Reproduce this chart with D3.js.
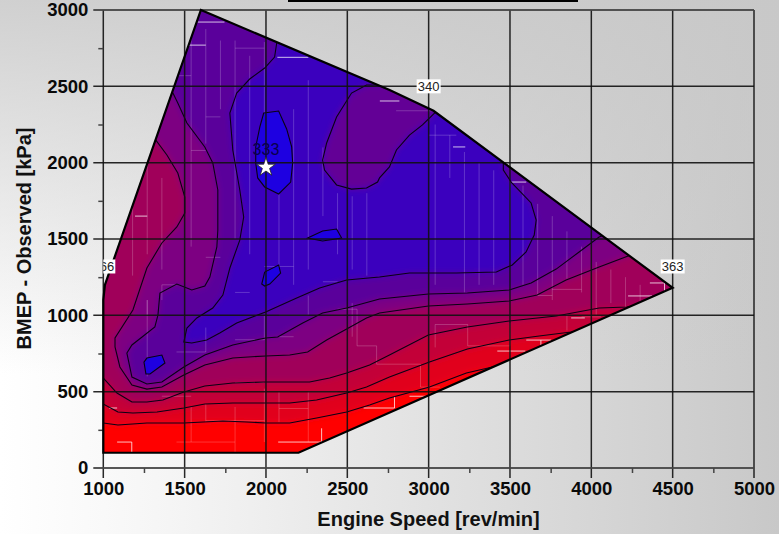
<!DOCTYPE html>
<html>
<head>
<meta charset="utf-8">
<script src="https://cdn.jsdelivr.net/npm/d3@7/dist/d3.min.js"></script>
<style>
html,body{margin:0;padding:0;background:#fff;overflow:hidden}
svg{display:block}
text{font-family:"Liberation Sans",Arial,sans-serif}
</style>
</head>
<body>
<div id="chart"></div>
<script>
const xTicks=[1000,1500,2000,2500,3000,3500,4000,4500,5000];
const xMinor=[1250,1750,2250,2750,3250,3750,4250,4750];
const yTicks=[0,500,1000,1500,2000,2500,3000];
const yMinor=[250,750,1250,1750,2250,2750];
const xTitle="Engine Speed [rev/min]";
const yTitle="BMEP - Observed [kPa]";

// Engine map limit (rpm, kPa)
const outline=[[1000,100],[2200,100],[4500,1180],[3030,2340],[2760,2476],[1600,3000],[1010,1200],[1000,1100]];

// Contours, rpm/kPa. Each closes around the lower-BSFC side; closing points lie beyond the map limit.
const contour1=[[950,300],[1000,295],[1090,282],[1268,295],[1495,295],[1735,308],[1882,301],[1998,295],[2146,295],[2311,328],[2496,367],[2637,413],[2759,459],[3005,531],[3232,622],[3392,662],[3600,700],[5000,860],[5000,3100],[950,3100]];
const contour2=[[950,425],[1000,419],[1090,367],[1182,360],[1330,367],[1495,393],[1624,419],[1796,426],[1998,426],[2146,426],[2311,445],[2496,491],[2618,531],[2759,596],[3005,694],[3238,779],[3495,838],[3679,865],[3876,891],[5000,1100],[5000,3100],[950,3100]];
const contour3=[[950,600],[1000,590],[1084,491],[1176,432],[1268,432],[1366,445],[1495,498],[1624,537],[1796,557],[1998,563],[2146,563],[2268,563],[2391,590],[2496,622],[2637,675],[2759,740],[2998,871],[3238,924],[3495,963],[3784,996],[4048,1048],[4220,1055],[5000,1200],[5000,3100],[950,3100]];
const contour4=[[1323,2148],[1391,2050],[1458,1932],[1501,1775],[1501,1670],[1452,1579],[1360,1474],[1268,1310],[1182,1035],[1072,852],[1072,793],[1102,662],[1176,544],[1268,517],[1360,531],[1495,609],[1624,675],[1796,721],[1998,734],[2146,740],[2256,760],[2373,838],[2496,910],[2618,983],[2698,1015],[2999,1061],[3238,1074],[3495,1094],[3667,1133],[3845,1231],[4048,1317],[4226,1389],[4350,1500],[3100,2500],[1600,3100],[1250,2200]];
const contour5=[[1428,2456],[1458,2391],[1514,2260],[1624,2103],[1673,1998],[1704,1821],[1704,1559],[1698,1448],[1655,1251],[1624,1192],[1544,1166],[1452,1205],[1348,1146],[1336,1002],[1317,924],[1176,806],[1145,753],[1176,596],[1268,550],[1360,563],[1495,662],[1624,740],[1796,806],[1998,852],[2072,858],[2226,950],[2348,1015],[2496,1048],[2698,1107],[2999,1140],[3238,1146],[3495,1166],[3630,1212],[3784,1303],[3925,1415],[4048,1513],[4250,1600],[3100,2500],[1600,3100],[1390,2500]];
const contour6=[[2066,2784],[2053,2692],[1992,2620],[1900,2548],[1820,2456],[1778,2325],[1796,2083],[1839,1821],[1863,1644],[1839,1493],[1778,1310],[1735,1133],[1673,1048],[1575,983],[1514,917],[1495,825],[1544,819],[1636,838],[1716,884],[1820,950],[1998,1022],[2189,1113],[2330,1179],[2496,1231],[2698,1251],[2882,1277],[3170,1277],[3416,1284],[3514,1330],[3599,1415],[3649,1526],[3661,1624],[3630,1736],[3507,1873],[3459,1952],[3459,1998],[3520,2050],[3100,2450],[2100,2900]];
const hole=[[2348,2017],[2373,2129],[2434,2299],[2526,2456],[2618,2509],[2698,2509],[2821,2541],[3096,2410],[3036,2325],[2962,2247],[2882,2181],[2802,2083],[2759,1972],[2698,1900],[2686,1873],[2618,1834],[2526,1827],[2434,1854],[2360,1952]];
const islandA=[[1986,2325],[2078,2338],[2127,2221],[2158,2103],[2164,1998],[2152,1873],[2078,1795],[1992,1841],[1949,1900],[1937,1998],[1937,2103],[1962,2233]];
const islandB=[[2256,1506],[2348,1552],[2434,1565],[2465,1506],[2348,1487]];
const islandC=[[1992,1283],[2078,1330],[2090,1277],[2023,1205],[1992,1192],[1974,1205]];
const islandD=[[1250,694],[1268,720],[1360,740],[1379,688],[1287,616],[1262,616]];

// Fill colour of each successive band
const bandColors=["#ff0000","#e1001e","#c30037","#a0005a","#7d0082","#5a009b","#3a00be"];
const holeColor="#640096";
const islandColor="#1e00e1";

// Faint and bright edges of the cell map: [rpm,kPa] polylines
const faintEdges=[
[[1630,2125],[1630,2875]],[[1720,2350],[1720,2800]],[[1810,1500],[1810,2800]],[[1900,1400],[1900,2700]],[[1990,2200],[1990,2790]],
[[2080,1300],[2080,2100]],[[2170,1200],[2170,2350]],[[2260,1300],[2260,2540]],[[2350,2100],[2350,1650]],[[2440,1400],[2440,1800]],[[2530,1300],[2530,1780]],[[2620,1260],[2620,1800]],
[[1270,1400],[1270,2200]],[[1360,1900],[1360,1300]],[[1180,1260],[1180,1900]],[[1540,1450],[1540,2900]],
[[1810,2750],[1990,2750]],[[1630,2300],[1720,2300]],[[1460,2570],[1540,2570]],[[1630,2080],[1540,2080]],
[[2800,2340],[3050,2340]],[[3000,2180],[3170,2180]],[[3220,2070],[3220,1150]],[[3040,2250],[3040,1200]],[[3130,2180],[3130,1900]],
[[3310,2000],[3310,1200]],[[3400,1950],[3400,1200]],[[3500,1880],[3500,1500]],[[3580,1850],[3580,1200]],[[3670,1730],[3670,1130]],
[[3760,1650],[3760,1100]],[[3850,1550],[3850,1240]],[[3940,1450],[3940,1150]],[[4030,1350],[4030,1000]],[[4120,1300],[4120,1080]],[[4210,1250],[4210,1050]],[[4300,1200],[4300,1000]],
[[3760,1170],[3940,1170]],[[3670,1130],[3760,1130]],[[3850,1010],[3850,900]],[[3940,990],[4060,990]],
[[2440,1040],[2560,1040]],[[2560,1040],[2560,800]],[[2560,800],[2680,800]],[[2680,800],[2680,680]],[[2680,680],[2950,680]],[[2950,680],[2950,530]],[[2950,530],[3070,530]],
[[3040,790],[3040,940]],[[3040,940],[3240,940]],[[3240,940],[3240,800]],[[3500,800],[3500,950]],[[3240,800],[3500,800]],
[[1180,1000],[1270,1000]],[[1270,1000],[1270,1100]],[[1360,1200],[1450,1200]],[[1360,1100],[1360,1200]],
[[1270,1100],[1270,600]],[[1630,300],[1630,420]],[[1540,170],[1540,400]],[[1810,100],[1810,400]],[[1990,170],[1990,520]],[[2080,300],[2080,500]],[[2260,170],[2260,500]],
[[1450,170],[1810,170]],[[1630,310],[1990,310]],[[2080,390],[2260,390]],[[2260,500],[2440,500]],[[1360,470],[1540,470]],[[1810,560],[1990,560]],
[[1450,760],[1630,760]],[[1630,760],[1630,920]],[[1810,840],[1990,840]],[[1990,840],[1990,1000]],[[2080,1000],[2260,1000]],[[2260,1000],[2260,1130]],
[[1990,1320],[2170,1320]],[[2350,1220],[2440,1220]],[[1810,1150],[1900,1150]],[[1630,1380],[1720,1380]],[[2530,1080],[2530,860]],[[2080,860],[2170,860]]
];
const brightEdges=[
[[1580,2921],[1745,2921]],[[1490,2770],[1630,2770]],[[1425,2692],[1495,2692]],[[2070,2690],[2260,2690]],[[2700,2404],[2820,2404]],
[[1195,1650],[1270,1650]],[[3150,2103],[3225,2103]],[[3510,1873],[3600,1873]],[[4360,1212],[4450,1212]],[[4450,1212],[4450,1127]],
[[1085,170],[1175,170]],[[1175,170],[1175,100]],[[1035,393],[1085,393]],[[2342,170],[2342,260]],[[2075,170],[2342,170]],
[[2600,393],[2790,393]],[[2790,393],[2790,470]],[[2882,470],[2985,470]],[[3422,766],[3595,766]],[[3600,838],[3753,838]],[[3690,838],[3690,790]],
[[3876,983],[3960,983]],[[4226,1127],[4373,1127]]
];

// Labelled points
const boxLabels=[{rpm:3000,kpa:2500,text:"340"},{rpm:4500,kpa:1320,text:"363"},{rpm:1000,kpa:1320,text:"366"}];
const peakRpm=2000,peakKpa=1970,peakLabel="333";

const W=779,H=534;
const x=d3.scaleLinear().domain([1000,5000]).range([103.3,754]);
const y=d3.scaleLinear().domain([0,3000]).range([468,10]);
const line=d3.line().x(d=>x(d[0])).y(d=>y(d[1]));
const closed=p=>line(p)+"Z";

const svg=d3.select("#chart").append("svg").attr("width",W).attr("height",H).attr("viewBox",[0,0,W,H]);
const defs=svg.append("defs");

const hg=defs.append("linearGradient").attr("id","bgH").attr("x1",0).attr("x2",1).attr("y1",0).attr("y2",0);
hg.append("stop").attr("offset",0).attr("stop-color","#ffffff");
hg.append("stop").attr("offset",0.2).attr("stop-color","#f6f6f6");
hg.append("stop").attr("offset",1).attr("stop-color","#c8c8c8");
const vg=defs.append("linearGradient").attr("id","bgV").attr("x1",0).attr("x2",0).attr("y1",0).attr("y2",1);
vg.append("stop").attr("offset",0).attr("stop-color","#c8c8c8").attr("stop-opacity",0.85);
vg.append("stop").attr("offset",0.7).attr("stop-color","#c8c8c8").attr("stop-opacity",0);

svg.append("rect").attr("width",W).attr("height",H).attr("fill","url(#bgH)");
svg.append("rect").attr("width",W).attr("height",H).attr("fill","url(#bgV)");
svg.append("rect").attr("x",288).attr("y",0).attr("width",290).attr("height",2).attr("fill","#000");

defs.append("clipPath").attr("id","mapClip").append("path").attr("d",closed(outline));
const f=defs.append("filter").attr("id","soft").attr("filterUnits","userSpaceOnUse")
 .attr("x",0).attr("y",-60).attr("width",W).attr("height",H+60);
f.append("feGaussianBlur").attr("stdDeviation",3);

const map=svg.append("g").attr("clip-path","url(#mapClip)");
const soft=map.append("g").attr("filter","url(#soft)");
soft.append("rect").attr("x",60).attr("y",300).attr("width",719).attr("height",234).attr("fill",bandColors[0]);
const bands=[contour1,contour2,contour3,contour4,contour5,contour6];
soft.selectAll("path.band").data(bands).join("path").attr("class","band")
  .attr("d",closed).attr("fill",(d,i)=>bandColors[i+1]);
soft.append("path").attr("d",closed(hole)).attr("fill",holeColor);

map.selectAll("path.faint").data(faintEdges).join("path").attr("class","faint")
  .attr("d",line).attr("fill","none").attr("stroke","#fff").attr("stroke-opacity",0.2).attr("stroke-width",1);
map.selectAll("path.bright").data(brightEdges).join("path").attr("class","bright")
  .attr("d",line).attr("fill","none").attr("stroke","#fff").attr("stroke-opacity",0.75).attr("stroke-width",1);

const islands=[islandA,islandB,islandC,islandD];
map.selectAll("path.island").data(islands).join("path").attr("class","island")
  .attr("d",closed).attr("fill",islandColor);
map.selectAll("path.iso").data(bands.concat([hole],islands)).join("path").attr("class","iso")
  .attr("d",closed).attr("fill","none").attr("stroke","#0a0014").attr("stroke-width",1.1);

// Grid and axes
const grid=svg.append("g");
grid.selectAll("line.v").data(xTicks).join("line").attr("class","v")
  .attr("x1",d=>x(d)).attr("x2",d=>x(d)).attr("y1",y(3000)).attr("y2",y(0)+10)
  .attr("stroke","#111").attr("stroke-opacity",0.9).attr("stroke-width",1.5);
grid.selectAll("line.h").data(yTicks).join("line").attr("class","h")
  .attr("x1",x(1000)-10).attr("x2",x(5000)).attr("y1",d=>y(d)).attr("y2",d=>y(d))
  .attr("stroke",d=>(d===0||d===3000)?"#444":"#111").attr("stroke-opacity",0.9).attr("stroke-width",d=>(d===0||d===3000)?2:1.5);

const xAxisMinor=d3.axisBottom(x).tickValues(xMinor).tickSize(5).tickFormat("");
svg.append("g").attr("transform",`translate(0,${y(0)})`).call(xAxisMinor).call(g=>{g.select(".domain").remove();g.selectAll("line").attr("stroke","#444").attr("stroke-width",1.5);});
const yAxisMinor=d3.axisLeft(y).tickValues(yMinor).tickSize(5).tickFormat("");
svg.append("g").attr("transform",`translate(${x(1000)},0)`).call(yAxisMinor).call(g=>{g.select(".domain").remove();g.selectAll("line").attr("stroke","#444").attr("stroke-width",1.5);});

const xAxis=d3.axisBottom(x).tickValues(xTicks).tickSize(0).tickPadding(14).tickFormat(d3.format("d"));
svg.append("g").attr("transform",`translate(0,${y(0)})`).call(xAxis).call(g=>{g.select(".domain").remove();
  g.selectAll("text").attr("font-family","Liberation Sans").attr("font-size",18.5).attr("font-weight","bold").attr("fill","#0a0a0a");});
const yAxis=d3.axisLeft(y).tickValues(yTicks).tickSize(0).tickPadding(15).tickFormat(d3.format("d"));
svg.append("g").attr("transform",`translate(${x(1000)},0)`).call(yAxis).call(g=>{g.select(".domain").remove();
  g.selectAll("text").attr("font-family","Liberation Sans").attr("font-size",18.5).attr("font-weight","bold").attr("fill","#0a0a0a");});

svg.append("text").attr("x",428.5).attr("y",526).attr("text-anchor","middle")
  .attr("font-size",20).attr("font-weight","bold").attr("fill","#111").text(xTitle);
svg.append("text").attr("transform","translate(31,238.5) rotate(-90)").attr("text-anchor","middle")
  .attr("font-size",20).attr("font-weight","bold").attr("fill","#111").text(yTitle);

// Map outline
svg.append("path").attr("d",closed(outline)).attr("fill","none").attr("stroke","#000").attr("stroke-width",2.2).attr("stroke-linejoin","miter");

// Value labels
defs.append("clipPath").attr("id","plotClip").append("rect").attr("x",x(1000)).attr("y",0).attr("width",700).attr("height",H);
const lab=svg.append("g").attr("clip-path","url(#plotClip)");
const lg=lab.selectAll("g").data(boxLabels).join("g").attr("transform",d=>`translate(${x(d.rpm)},${y(d.kpa)})`);
lg.append("rect").attr("x",-12).attr("y",-7).attr("width",24).attr("height",14).attr("fill","#fff");
lg.append("text").attr("text-anchor","middle").attr("y",4.5).attr("font-size",13).attr("fill","#222").text(d=>d.text);

svg.append("text").attr("x",x(peakRpm)).attr("y",y(peakKpa)-12).attr("text-anchor","middle")
  .attr("font-size",16).attr("fill","#08004a").text(peakLabel);
svg.append("path").attr("transform",`translate(${x(peakRpm)},${y(peakKpa)})`)
  .attr("d",d3.symbol(d3.symbolStar,110)).attr("fill","#fff").attr("stroke","#222").attr("stroke-width",0.8);
</script>
</body>
</html>
